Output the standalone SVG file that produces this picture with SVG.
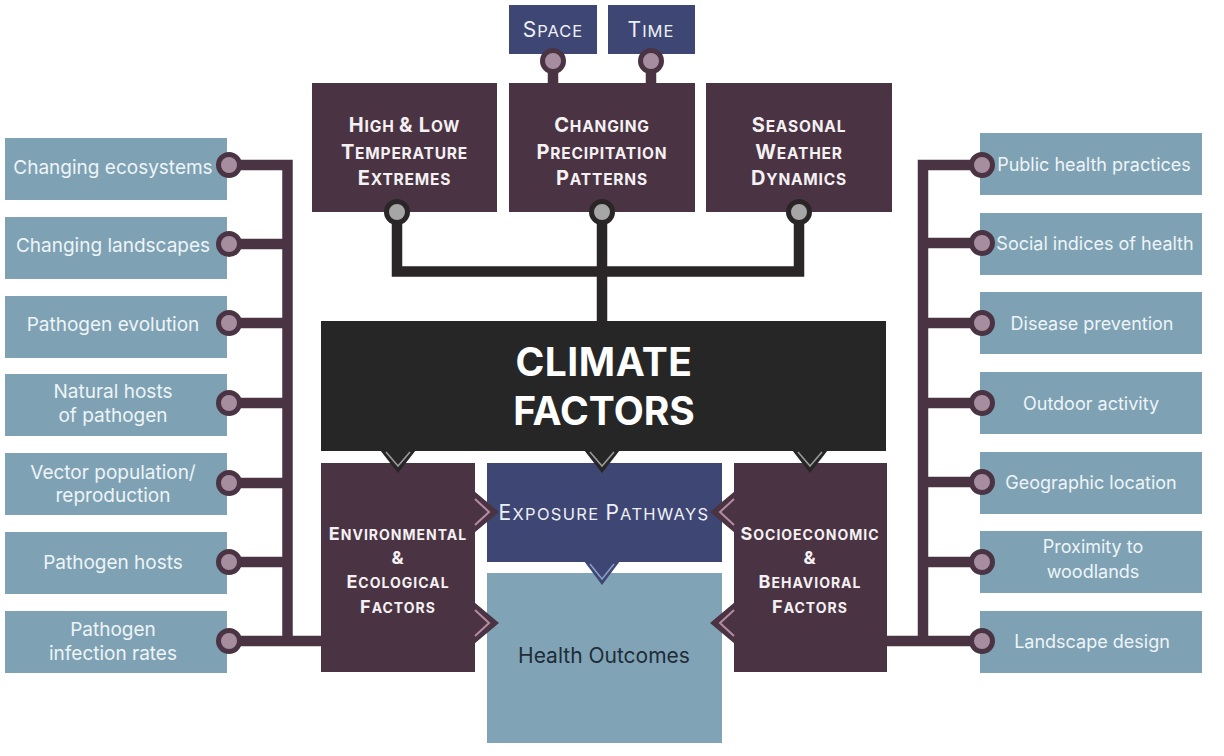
<svg xmlns="http://www.w3.org/2000/svg" width="1224" height="756" viewBox="0 0 1224 756">
<style>
text{font-family:Inter,"Open Sans","Liberation Sans",sans-serif;text-anchor:middle}
.plum{fill:#4a3443}
.navy{fill:#3e4673}
.lb{fill:#7ea2b4}
.blk{fill:#262626}
.t{font-size:19px;fill:#eef4f7}
.r .t{font-size:18px}
.hd{font-size:15.5px;font-weight:700;fill:#f5f1f3;letter-spacing:0.8px}
.hd .b{font-size:20px}
.en{font-size:14px;font-weight:700;fill:#f5f1f3;letter-spacing:1px}
.en .b{font-size:18px}
.ex{font-size:16.5px;fill:#eef0f7;letter-spacing:1.3px}
.ex .b{font-size:21px}
.ln{fill:none;stroke-width:10.5}
.dk{stroke:#2a2627}
.pl{stroke:#4a3443}
.c1{fill:#a6a6a6;stroke:#2a2627;stroke-width:5}
.c2{fill:#a68ea0;stroke:#4a3443;stroke-width:5}
.vl{fill:none;stroke-width:1.6}
</style>
<rect width="1224" height="756" fill="#ffffff"/>

<g id="space"><rect class="navy" x="509" y="5" width="88" height="49"/><text class="ex" x="553" y="37" style="letter-spacing:1px"><tspan class="b">S</tspan>PACE</text></g>
<g id="time"><rect class="navy" x="608" y="5" width="87" height="49"/><text class="ex" x="651" y="37" style="letter-spacing:1px"><tspan class="b">T</tspan>IME</text></g>

<g id="high-low"><rect class="plum" x="312" y="83" width="185" height="129"/>
<text class="hd" x="404.5" y="132"><tspan class="b">H</tspan>IGH <tspan class="b">&amp; L</tspan>OW</text>
<text class="hd" x="404.5" y="159"><tspan class="b">T</tspan>EMPERATURE</text>
<text class="hd" x="404.5" y="185"><tspan class="b">E</tspan>XTREMES</text></g>
<g id="precipitation"><rect class="plum" x="509" y="83" width="186" height="129"/>
<text class="hd" x="602" y="132"><tspan class="b">C</tspan>HANGING</text>
<text class="hd" x="602" y="159"><tspan class="b">P</tspan>RECIPITATION</text>
<text class="hd" x="602" y="185"><tspan class="b">P</tspan>ATTERNS</text></g>
<g id="seasonal"><rect class="plum" x="706" y="83" width="186" height="129"/>
<text class="hd" x="799" y="132"><tspan class="b">S</tspan>EASONAL</text>
<text class="hd" x="799" y="159"><tspan class="b">W</tspan>EATHER</text>
<text class="hd" x="799" y="185"><tspan class="b">D</tspan>YNAMICS</text></g>

<g id="climate-factors"><rect class="blk" x="321" y="321" width="565" height="130"/>
<text x="604" y="376" style="font-size:39px;font-weight:700;fill:#ffffff;letter-spacing:0.5px">CLIMATE</text>
<text x="604" y="425" style="font-size:39px;font-weight:700;fill:#ffffff">FACTORS</text></g>

<g id="environmental"><rect class="plum" x="321" y="463" width="154" height="209"/>
<text class="en" x="398" y="540"><tspan class="b">E</tspan>NVIRONMENTAL</text>
<text class="en" x="398" y="564"><tspan class="b">&amp;</tspan></text>
<text class="en" x="398" y="588"><tspan class="b">E</tspan>COLOGICAL</text>
<text class="en" x="398" y="613"><tspan class="b">F</tspan>ACTORS</text></g>

<g id="exposure"><rect class="navy" x="487" y="463" width="235" height="99"/>
<text class="ex" x="604" y="520"><tspan class="b">E</tspan>XPOSURE <tspan class="b">P</tspan>ATHWAYS</text></g>

<g id="health"><rect x="487" y="573" width="235" height="170" fill="#80a4b6"/>
<text x="604" y="663" style="font-size:21px;fill:#1f2c38">Health Outcomes</text></g>

<g id="socioeconomic"><rect class="plum" x="734" y="463" width="153" height="209"/>
<text class="en" x="810" y="540"><tspan class="b">S</tspan>OCIOECONOMIC</text>
<text class="en" x="810" y="564"><tspan class="b">&amp;</tspan></text>
<text class="en" x="810" y="588"><tspan class="b">B</tspan>EHAVIORAL</text>
<text class="en" x="810" y="613"><tspan class="b">F</tspan>ACTORS</text></g>

<g id="l1"><rect class="lb" x="5" y="138" width="222" height="62"/><text class="t" x="113" y="174">Changing ecosystems</text></g>
<g id="l2"><rect class="lb" x="5" y="217" width="222" height="62"/><text class="t" x="113" y="252">Changing landscapes</text></g>
<g id="l3"><rect class="lb" x="5" y="296" width="222" height="62"/><text class="t" x="113" y="331">Pathogen evolution</text></g>
<g id="l4"><rect class="lb" x="5" y="374" width="222" height="62"/><text class="t" x="113" y="398">Natural hosts</text><text class="t" x="113" y="422">of pathogen</text></g>
<g id="l5"><rect class="lb" x="5" y="453" width="222" height="62"/><text class="t" x="113" y="479">Vector population/</text><text class="t" x="113" y="502">reproduction</text></g>
<g id="l6"><rect class="lb" x="5" y="532" width="222" height="62"/><text class="t" x="113" y="569">Pathogen hosts</text></g>
<g id="l7"><rect class="lb" x="5" y="611" width="222" height="62"/><text class="t" x="113" y="636">Pathogen</text><text class="t" x="113" y="660">infection rates</text></g>

<g class="r">
<g id="r1"><rect class="lb" x="980" y="133" width="222" height="62"/><text class="t" x="1094" y="171">Public health practices</text></g>
<g id="r2"><rect class="lb" x="980" y="213" width="222" height="62"/><text class="t" x="1095" y="250">Social indices of health</text></g>
<g id="r3"><rect class="lb" x="980" y="292" width="222" height="62"/><text class="t" x="1092" y="330">Disease prevention</text></g>
<g id="r4"><rect class="lb" x="980" y="372" width="222" height="62"/><text class="t" x="1091" y="410">Outdoor activity</text></g>
<g id="r5"><rect class="lb" x="980" y="452" width="222" height="62"/><text class="t" x="1091" y="489">Geographic location</text></g>
<g id="r6"><rect class="lb" x="980" y="531" width="222" height="62"/><text class="t" x="1093" y="553">Proximity to</text><text class="t" x="1093" y="578">woodlands</text></g>
<g id="r7"><rect class="lb" x="980" y="611" width="222" height="62"/><text class="t" x="1092" y="648">Landscape design</text></g>
</g>

<g id="connectors">
<path class="ln pl" d="M553 54V84M651 54V84"/>
<path class="ln dk" d="M397 212V271.5H799V212M602 212V322"/>
<path class="ln pl" d="M229 165H287.5V641M229 244H287.5M229 323H287.5M229 403H287.5M229 483H287.5M229 562H287.5M229 641H322"/>
<path class="ln pl" d="M982 165H923V641M982 243H923M982 323H923M982 403H923M982 482H923M982 562H923M982 641H886"/>
<circle class="c2" cx="553" cy="61" r="10.5"/><circle class="c2" cx="651" cy="61" r="10.5"/>
<circle class="c1" cx="397" cy="212" r="10.5"/><circle class="c1" cx="602" cy="212" r="10.5"/><circle class="c1" cx="799" cy="212" r="10.5"/>
<circle class="c2" cx="229" cy="165" r="10.5"/><circle class="c2" cx="229" cy="244" r="10.5"/><circle class="c2" cx="229" cy="323" r="10.5"/><circle class="c2" cx="229" cy="403" r="10.5"/><circle class="c2" cx="229" cy="483" r="10.5"/><circle class="c2" cx="229" cy="562" r="10.5"/><circle class="c2" cx="229" cy="641" r="10.5"/>
<circle class="c2" cx="982" cy="165" r="10.5"/><circle class="c2" cx="982" cy="243" r="10.5"/><circle class="c2" cx="982" cy="323" r="10.5"/><circle class="c2" cx="982" cy="403" r="10.5"/><circle class="c2" cx="982" cy="482" r="10.5"/><circle class="c2" cx="982" cy="562" r="10.5"/><circle class="c2" cx="982" cy="641" r="10.5"/>
<g fill="#262626"><path d="M380 450H416L398 473Z"/><path d="M584 450H620L602 473Z"/><path d="M792 450H828L810 473Z"/></g>
<g class="vl" stroke="#9a9a9a"><path d="M386 452L398 466L410 452"/><path d="M590 452L602 466L614 452"/><path d="M798 452L810 466L822 452"/></g>
<path d="M584 561H620L602 585Z" fill="#3e4673"/>
<path class="vl" stroke="#8b9bc6" d="M590 564L602 579L614 564"/>
<g fill="#4a3443"><path d="M474 491L499 512L474 533Z"/><path d="M474 602L499 623L474 644Z"/><path d="M735 491L710 512L735 533Z"/><path d="M735 602L710 623L735 644Z"/></g>
<g class="vl" stroke="#b48ba2" style="stroke-width:2"><path d="M475 499L489 512L475 525"/><path d="M475 610L489 623L475 636"/><path d="M734 499L720 512L734 525"/><path d="M734 610L720 623L734 636"/></g>
</g>
</svg>
